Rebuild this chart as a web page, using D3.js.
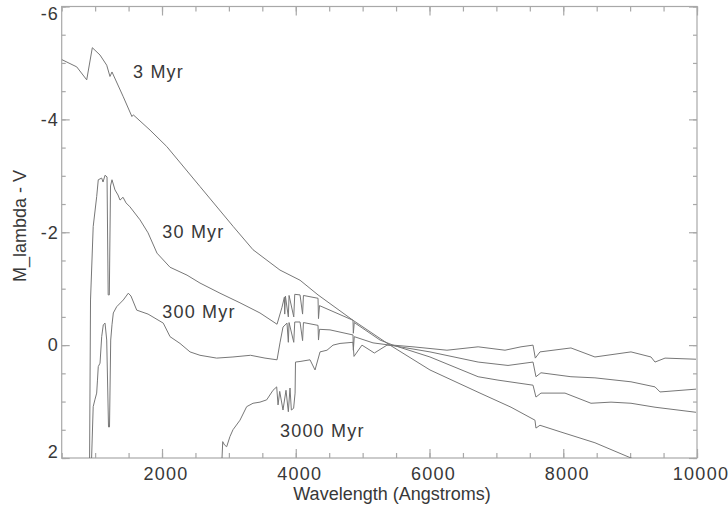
<!DOCTYPE html>
<html>
<head>
<meta charset="utf-8">
<script src="https://cdn.jsdelivr.net/npm/d3@7"></script>
<style>
  html, body { margin: 0; padding: 0; background: #fff; }
  text { font-family: "Liberation Sans", Arial, Helvetica, sans-serif; fill: #383838; }
</style>
</head>
<body>
<svg id="chart"></svg>
<script>
// spectra: wavelength (Angstroms) and M_lambda - V
const wl3 = [500, 725, 874, 958, 1073, 1173, 1222, 1252, 1421, 1550, 1571, 1821, 2070, 2568, 3066, 3361, 3764, 4064, 4333, 4856, 5409, 6007, 6755, 7219, 7577, 7592, 7652, 7966, 8474, 9013, 9300];
const mag3 = [-5.06, -4.93, -4.70, -5.27, -5.14, -4.96, -4.76, -4.84, -4.40, -4.05, -4.08, -3.81, -3.52, -2.81, -2.10, -1.69, -1.33, -1.15, -0.89, -0.44, 0.00, 0.44, 0.85, 1.10, 1.33, 1.47, 1.42, 1.54, 1.73, 2.00, 2.12];

const wl30 = [916, 931, 971, 1023, 1047, 1098, 1118, 1148, 1178, 1195, 1212, 1230, 1252, 1297, 1342, 1372, 1417, 1462, 1521, 1671, 1791, 1925, 2120, 2374, 2568, 2867, 3166, 3465, 3720, 3794, 3830, 3835, 3845, 3889, 3900, 3970, 3985, 4064, 4102, 4115, 4333, 4340, 4355, 4856, 4861, 4875, 5260, 5454, 6007, 6727, 7024, 7548, 7592, 7667, 8026, 8415, 8714, 9013, 9372, 9985];
const mag30 = [2.22, -0.80, -2.10, -2.63, -2.93, -2.96, -2.89, -3.01, -2.98, -0.89, -0.89, -2.82, -2.93, -2.75, -2.66, -2.57, -2.62, -2.52, -2.45, -2.22, -1.99, -1.63, -1.38, -1.24, -1.10, -0.92, -0.75, -0.57, -0.37, -0.67, -0.85, -0.55, -0.87, -0.50, -0.88, -0.50, -0.90, -0.89, -0.55, -0.88, -0.83, -0.47, -0.70, -0.44, -0.21, -0.40, -0.09, 0.00, 0.21, 0.56, 0.62, 0.71, 0.92, 0.85, 0.85, 1.03, 1.01, 1.03, 1.10, 1.19];

const wl300 = [941, 946, 971, 996, 1023, 1035, 1047, 1073, 1098, 1122, 1148, 1173, 1200, 1215, 1233, 1252, 1272, 1322, 1421, 1496, 1536, 1622, 1791, 2019, 2120, 2269, 2419, 2568, 2817, 3061, 3324, 3540, 3720, 3764, 3809, 3869, 3889, 3900, 3970, 3985, 4064, 4102, 4115, 4333, 4340, 4355, 4512, 4856, 4861, 4875, 5155, 5409, 6007, 6727, 7174, 7548, 7592, 7667, 8115, 8474, 9013, 9372, 9447, 9985];
const mag300 = [2.21, 2.04, 1.09, 0.97, 0.85, 0.62, 0.38, 0.32, -0.15, -0.36, -0.39, -0.09, 1.45, 1.45, -0.09, -0.36, -0.57, -0.68, -0.80, -0.92, -0.87, -0.62, -0.55, -0.39, -0.15, -0.03, 0.12, 0.18, 0.23, 0.21, 0.18, 0.23, 0.26, -0.04, -0.32, -0.39, -0.05, -0.40, -0.05, -0.41, -0.41, -0.08, -0.40, -0.35, -0.09, -0.28, -0.27, -0.18, 0.09, -0.15, -0.04, 0.00, 0.12, 0.30, 0.36, 0.30, 0.56, 0.49, 0.56, 0.58, 0.65, 0.74, 0.83, 0.78];

const wl3000 = [2890, 2908, 2935, 2967, 3016, 3061, 3166, 3266, 3361, 3465, 3565, 3660, 3715, 3735, 3760, 3809, 3854, 3889, 3914, 3934, 3968, 3990, 3996, 4064, 4213, 4288, 4363, 4467, 4557, 4662, 4856, 4871, 4990, 5110, 5175, 5364, 5454, 5753, 6261, 6727, 7129, 7368, 7548, 7582, 7652, 8115, 8474, 9013, 9312, 9372, 9522, 9985];
const mag3000 = [2.20, 1.71, 1.77, 1.80, 1.62, 1.50, 1.33, 1.09, 1.03, 1.01, 0.97, 0.80, 0.74, 1.06, 0.82, 1.15, 0.80, 1.18, 0.76, 1.15, 1.12, 0.85, 0.30, 0.29, 0.26, 0.44, 0.12, 0.09, 0.00, -0.03, -0.05, 0.20, 0.00, 0.09, 0.14, 0.00, 0.00, 0.03, 0.09, 0.03, 0.09, 0.03, 0.00, 0.23, 0.12, 0.05, 0.21, 0.12, 0.21, 0.30, 0.23, 0.25];

const seriesNames = ["3 Myr", "30 Myr", "300 Myr", "3000 Myr"];
// where each curve label sits, in data units
const labelWl = [1566, 2004, 2004, 3764];
const labelMag = [-4.73, -1.89, -0.48, 1.62];

const xMajor = [2000, 4000, 6000, 8000, 10000];
const xMinor = d3.range(500, 10001, 500);
const yMajor = [-6, -4, -2, 0, 2];
const yMinor = d3.range(-6, 2.01, 0.5);

const W = 728, H = 508;
const M = { top: 6.5, right: 31, bottom: 50, left: 61.7 };

const svg = d3.select("#chart")
  .attr("width", W)
  .attr("height", H);

svg.append("rect")
  .attr("width", W)
  .attr("height", H)
  .attr("fill", "#fff");

const x = d3.scaleLinear().domain([500, 10000]).range([M.left, W - M.right]);
const y = d3.scaleLinear().domain([-6, 2]).range([M.top, H - M.bottom]);

const axisColor = "#a8a8a8";

function styleAxis(g) {
  g.select(".domain").remove();
  g.selectAll(".tick line").attr("stroke", axisColor).attr("stroke-width", 1.2);
  g.selectAll("text").remove();
}

// inward ticks on all four sides
const yBot = y.range()[1], yTop = y.range()[0];
const xLeft = x.range()[0], xRight = x.range()[1];
svg.append("g").attr("transform", `translate(0,${yBot})`)
  .call(d3.axisBottom(x).tickValues(xMinor).tickSize(-5)).call(styleAxis);
svg.append("g").attr("transform", `translate(0,${yBot})`)
  .call(d3.axisBottom(x).tickValues(xMajor).tickSize(-9)).call(styleAxis);
svg.append("g").attr("transform", `translate(0,${yTop})`)
  .call(d3.axisTop(x).tickValues(xMinor).tickSize(-5)).call(styleAxis);
svg.append("g").attr("transform", `translate(0,${yTop})`)
  .call(d3.axisTop(x).tickValues(xMajor).tickSize(-9)).call(styleAxis);
svg.append("g").attr("transform", `translate(${xLeft},0)`)
  .call(d3.axisLeft(y).tickValues(yMinor).tickSize(-4)).call(styleAxis);
svg.append("g").attr("transform", `translate(${xLeft},0)`)
  .call(d3.axisLeft(y).tickValues(yMajor).tickSize(-8)).call(styleAxis);
svg.append("g").attr("transform", `translate(${xRight},0)`)
  .call(d3.axisRight(y).tickValues(yMinor).tickSize(-4)).call(styleAxis);
svg.append("g").attr("transform", `translate(${xRight},0)`)
  .call(d3.axisRight(y).tickValues(yMajor).tickSize(-8)).call(styleAxis);

svg.append("rect")
  .attr("x", xLeft).attr("y", yTop)
  .attr("width", xRight - xLeft).attr("height", yBot - yTop)
  .attr("fill", "none")
  .attr("stroke", axisColor)
  .attr("stroke-width", 1.2);

// tick labels
svg.selectAll(".xlab")
  .data(xMajor)
  .enter().append("text")
  .attr("class", "xlab")
  .attr("x", d => x(d) + 4)
  .attr("y", yBot + 22)
  .attr("text-anchor", "middle")
  .attr("font-size", 18)
  .attr("letter-spacing", 1.3)
  .text(d => d);

svg.selectAll(".ylab")
  .data(yMajor)
  .enter().append("text")
  .attr("class", "ylab")
  .attr("x", xLeft - 3)
  .attr("y", d => Math.min(Math.max(y(d), yTop + 7), yBot - 6.5))
  .attr("dy", "0.35em")
  .attr("text-anchor", "end")
  .attr("font-size", 18)
  .attr("letter-spacing", 1)
  .text(d => d < 0 ? "-" + Math.abs(d) : d);

svg.append("text")
  .attr("x", 392)
  .attr("y", 500)
  .attr("text-anchor", "middle")
  .attr("font-size", 18)
  .text("Wavelength (Angstroms)");

svg.append("text")
  .attr("transform", "translate(26,226) rotate(-90)")
  .attr("text-anchor", "middle")
  .attr("font-size", 18)
  .text("M_lambda - V");

// spectra
svg.append("clipPath").attr("id", "plotclip")
  .append("rect")
  .attr("x", xLeft).attr("y", yTop)
  .attr("width", xRight - xLeft).attr("height", yBot - yTop);

const spectra = [
  d3.zip(wl3, mag3),
  d3.zip(wl30, mag30),
  d3.zip(wl300, mag300),
  d3.zip(wl3000, mag3000)
];

const line = d3.line()
  .x(d => x(d[0]))
  .y(d => y(d[1]));

svg.append("g")
  .attr("clip-path", "url(#plotclip)")
  .selectAll("path")
  .data(spectra)
  .enter().append("path")
  .attr("fill", "none")
  .attr("stroke", "#777")
  .attr("stroke-width", 1)
  .attr("stroke-linejoin", "round")
  .attr("d", line);

svg.selectAll(".serieslab")
  .data(seriesNames)
  .enter().append("text")
  .attr("class", "serieslab")
  .attr("x", (d, i) => x(labelWl[i]))
  .attr("y", (d, i) => y(labelMag[i]))
  .attr("font-size", 18)
  .attr("letter-spacing", 1.2)
  .text(d => d);
</script>
</body>
</html>
